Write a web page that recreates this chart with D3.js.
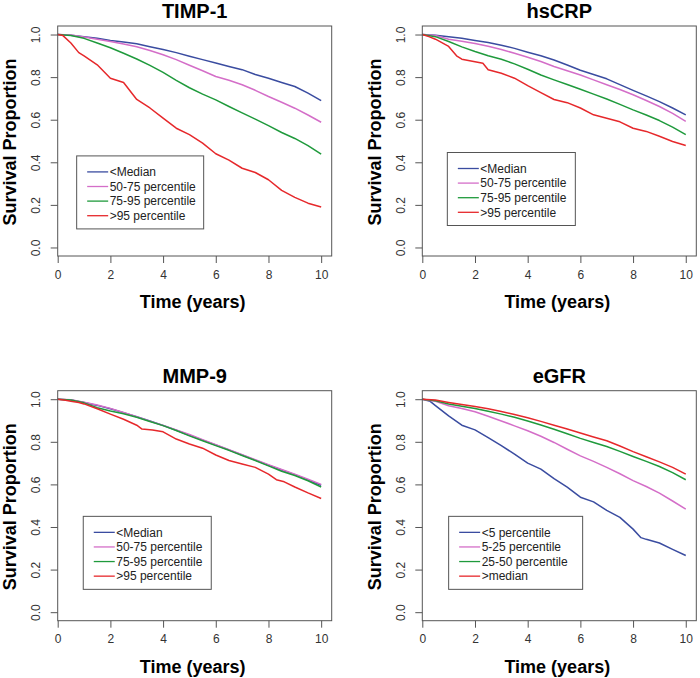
<!DOCTYPE html>
<html>
<head>
<meta charset="utf-8">
<script src="https://cdn.jsdelivr.net/npm/d3@7"></script>
<style>
  html, body { margin: 0; padding: 0; background: #fff; }
  svg { display: block; font-family: "Liberation Sans", Arial, Helvetica, sans-serif; }
</style>
</head>
<body>
<svg id="chart" width="700" height="678"></svg>
<script>
// ---------- DATA ----------
const panelTitles = ["TIMP-1", "hsCRP", "MMP-9", "eGFR"];
const xTicks = [0, 2, 4, 6, 8, 10];
const yTicks = [0.0, 0.2, 0.4, 0.6, 0.8, 1.0];
const xAxisTitle = "Time (years)";
const yAxisTitle = "Survival Proportion";

const quantileLabels = ["<Median", "50-75 percentile", "75-95 percentile", ">95 percentile"];
const egfrLabels = ["<5 percentile", "5-25 percentile", "25-50 percentile", ">median"];

// TIMP-1
const timp1Median = [[0,1],[0.5,0.997],[1,0.99],[1.5,0.982],[2,0.972],[2.5,0.965],[3,0.957],[3.5,0.943],[4,0.93],[4.5,0.915],[5,0.898],[5.5,0.882],[6,0.866],[6.5,0.85],[7,0.835],[7.5,0.812],[8,0.795],[8.5,0.775],[9,0.756],[9.5,0.725],[10,0.69]];
const timp1P5075 = [[0,1],[0.5,0.998],[1,0.988],[1.5,0.978],[2,0.967],[2.5,0.955],[3,0.943],[3.5,0.925],[4,0.905],[4.5,0.882],[5,0.856],[5.5,0.83],[6,0.803],[6.5,0.785],[7,0.764],[7.5,0.738],[8,0.709],[8.5,0.682],[9,0.654],[9.5,0.622],[10,0.588]];
const timp1P7595 = [[0,1],[0.5,0.995],[1,0.982],[1.5,0.96],[2,0.938],[2.5,0.912],[3,0.885],[3.5,0.855],[4,0.822],[4.5,0.785],[5,0.75],[5.5,0.72],[6,0.693],[6.5,0.662],[7,0.632],[7.5,0.603],[8,0.572],[8.5,0.54],[9,0.512],[9.5,0.478],[10,0.438]];
const timp1P95 = [[0,1],[0.2,0.995],[0.5,0.96],[0.8,0.915],[1,0.9],[1.5,0.858],[2,0.795],[2.5,0.775],[3,0.695],[3.5,0.655],[4,0.607],[4.5,0.56],[5,0.53],[5.5,0.49],[6,0.44],[6.5,0.41],[7,0.372],[7.5,0.352],[8,0.318],[8.5,0.268],[9,0.235],[9.5,0.208],[10,0.19]];

// hsCRP
const crpMedian = [[0,1],[0.5,0.997],[1,0.99],[1.5,0.982],[2,0.972],[2.5,0.962],[3,0.95],[3.5,0.935],[4,0.917],[4.5,0.9],[5,0.88],[5.5,0.857],[6,0.832],[6.5,0.812],[7,0.792],[7.5,0.765],[8,0.738],[8.5,0.712],[9,0.685],[9.5,0.655],[10,0.623]];
const crpP5075 = [[0,1],[0.5,0.995],[1,0.978],[1.5,0.968],[2,0.958],[2.5,0.945],[3,0.93],[3.5,0.912],[4,0.893],[4.5,0.873],[5,0.85],[5.5,0.83],[6,0.81],[6.5,0.787],[7,0.764],[7.5,0.742],[8,0.717],[8.5,0.69],[9,0.662],[9.5,0.63],[10,0.592]];
const crpP7595 = [[0,1],[0.5,0.99],[1,0.967],[1.5,0.942],[2,0.92],[2.5,0.9],[3,0.884],[3.5,0.862],[4,0.837],[4.5,0.81],[5,0.787],[5.5,0.765],[6,0.743],[6.5,0.72],[7,0.697],[7.5,0.672],[8,0.646],[8.5,0.622],[9,0.596],[9.5,0.565],[10,0.53]];
const crpP95 = [[0,1],[0.25,0.99],[0.5,0.978],[1,0.944],[1.3,0.9],[1.5,0.884],[2,0.872],[2.3,0.865],[2.5,0.835],[3,0.818],[3.5,0.795],[4,0.76],[4.5,0.727],[5,0.695],[5.5,0.68],[6,0.655],[6.5,0.623],[7,0.607],[7.5,0.59],[8,0.56],[8.5,0.545],[9,0.522],[9.5,0.498],[10,0.479]];

// MMP-9
const mmpMedian = [[0,1],[0.5,0.996],[1,0.985],[1.5,0.971],[2,0.955],[2.5,0.937],[3,0.918],[3.5,0.898],[4,0.877],[4.5,0.854],[5,0.831],[5.5,0.808],[6,0.785],[6.5,0.762],[7,0.738],[7.5,0.714],[8,0.69],[8.5,0.668],[9,0.646],[9.5,0.621],[10,0.596]];
const mmpP5075 = [[0,1],[0.5,0.997],[1,0.986],[1.5,0.973],[2,0.957],[2.5,0.938],[3,0.918],[3.5,0.897],[4,0.877],[4.5,0.856],[5,0.834],[5.5,0.81],[6,0.787],[6.5,0.763],[7,0.739],[7.5,0.716],[8,0.693],[8.5,0.67],[9,0.648],[9.5,0.624],[10,0.6]];
const mmpP7595 = [[0,1],[0.5,0.996],[1,0.983],[1.5,0.96],[2,0.945],[2.5,0.932],[3,0.915],[3.5,0.895],[4,0.876],[4.5,0.853],[5,0.828],[5.5,0.805],[6,0.782],[6.5,0.76],[7,0.736],[7.5,0.712],[8,0.687],[8.5,0.662],[9,0.642],[9.5,0.617],[10,0.588]];
const mmpP95 = [[0,1],[0.3,0.995],[0.5,0.99],[0.8,0.985],[1,0.978],[1.5,0.955],[2,0.93],[2.5,0.906],[3,0.878],[3.2,0.86],[3.6,0.855],[4,0.847],[4.5,0.813],[5,0.79],[5.5,0.77],[6,0.738],[6.5,0.712],[7,0.696],[7.5,0.68],[8,0.648],[8.3,0.622],[8.6,0.612],[9,0.588],[9.5,0.56],[10,0.534]];

// eGFR
const egfrP5 = [[0,1],[0.3,0.99],[0.5,0.97],[1,0.922],[1.5,0.878],[2,0.856],[2.5,0.82],[3,0.782],[3.5,0.742],[4,0.7],[4.5,0.672],[5,0.627],[5.5,0.587],[6,0.54],[6.5,0.518],[7,0.478],[7.5,0.445],[8,0.39],[8.3,0.35],[8.5,0.342],[9,0.325],[9.5,0.295],[10,0.266]];
const egfrP525 = [[0,1],[0.5,0.99],[1,0.969],[1.5,0.956],[2,0.941],[2.5,0.92],[3,0.898],[3.5,0.875],[4,0.852],[4.5,0.826],[5,0.797],[5.5,0.765],[6,0.734],[6.5,0.708],[7,0.68],[7.5,0.65],[8,0.618],[8.5,0.59],[9,0.559],[9.5,0.522],[10,0.484]];
const egfrP2550 = [[0,1],[0.5,0.993],[1,0.978],[1.5,0.967],[2,0.956],[2.5,0.943],[3,0.93],[3.5,0.915],[4,0.898],[4.5,0.879],[5,0.859],[5.5,0.838],[6,0.816],[6.5,0.797],[7,0.778],[7.5,0.755],[8,0.731],[8.5,0.708],[9,0.684],[9.5,0.655],[10,0.622]];
const egfrAboveMedian = [[0,1],[0.5,0.996],[1,0.985],[1.5,0.975],[2,0.966],[2.5,0.955],[3,0.942],[3.5,0.928],[4,0.913],[4.5,0.896],[5,0.878],[5.5,0.86],[6,0.841],[6.5,0.823],[7,0.805],[7.5,0.78],[8,0.754],[8.5,0.73],[9,0.706],[9.5,0.68],[10,0.648]];

// ---------- STYLE / LAYOUT ----------
const seriesColors = ["#3a4ca0", "#d46ec8", "#1f9a3c", "#e6282b"];
const panelSeries = [
  { labels: quantileLabels, series: [timp1Median, timp1P5075, timp1P7595, timp1P95], legendAt: [0.72, 0.43] },
  { labels: quantileLabels, series: [crpMedian, crpP5075, crpP7595, crpP95], legendAt: [0.95, 0.446] },
  { labels: quantileLabels, series: [mmpMedian, mmpP5075, mmpP7595, mmpP95], legendAt: [0.97, 0.45] },
  { labels: egfrLabels, series: [egfrP5, egfrP525, egfrP2550, egfrAboveMedian], legendAt: [1.0, 0.45] }
];
const legendWidths = [127, 128, 128, 134];
const boxes = [
  { left: 57.7, top: 26 }, { left: 422.3, top: 26 },
  { left: 57.7, top: 390.7 }, { left: 422.3, top: 390.7 }
];
const boxW = 274, boxH = 230;

const svg = d3.select("#chart");

panelSeries.forEach((p, i) => {
  const b = boxes[i];
  const x = d3.scaleLinear().domain([0, 10.4]).range([b.left, b.left + boxW]);
  const y = d3.scaleLinear().domain([-0.04, 1.04]).range([b.top + boxH, b.top]);
  const g = svg.append("g");

  // x axis (R style: ticks outward)
  const xa = g.append("g").attr("transform", `translate(0,${b.top + boxH})`)
    .call(d3.axisBottom(x).tickValues(xTicks).tickSize(7).tickPadding(7).tickFormat(d3.format("d")));
  xa.select(".domain").remove();
  xa.selectAll("line").attr("stroke", "#555");
  xa.selectAll("text").attr("font-size", 12).attr("fill", "#333")
    .attr("font-family", "Liberation Sans, Arial, sans-serif");

  // y axis
  const ya = g.append("g").attr("transform", `translate(${b.left},0)`)
    .call(d3.axisLeft(y).tickValues(yTicks).tickSize(7).tickFormat(d3.format(".1f")));
  ya.select(".domain").remove();
  ya.selectAll("line").attr("stroke", "#555");
  ya.selectAll("text")
    .attr("font-size", 12).attr("fill", "#333")
    .attr("font-family", "Liberation Sans, Arial, sans-serif")
    .attr("x", null).attr("dy", null)
    .attr("text-anchor", "middle")
    .attr("transform", "translate(-17.5,0) rotate(-90)");

  // survival curves
  const line = d3.line().x(d => x(d[0])).y(d => y(d[1]));
  p.series.forEach((s, k) => {
    g.append("path").datum(s)
      .attr("d", line)
      .attr("fill", "none")
      .attr("stroke", seriesColors[k])
      .attr("stroke-width", 1.5)
      .attr("stroke-linejoin", "round");
  });

  // plot box
  g.append("rect").attr("x", b.left).attr("y", b.top)
    .attr("width", boxW).attr("height", boxH)
    .attr("fill", "none").attr("stroke", "#555").attr("stroke-width", 1);

  // titles
  g.append("text").attr("x", b.left + boxW / 2).attr("y", b.top - 8)
    .attr("text-anchor", "middle").attr("font-weight", "bold").attr("font-size", 20)
    .attr("fill", "#000").text(panelTitles[i]);
  g.append("text").attr("x", b.left + boxW / 2 - 2).attr("y", b.top + boxH + 52)
    .attr("text-anchor", "middle").attr("font-weight", "bold").attr("font-size", 18)
    .attr("fill", "#000").text(xAxisTitle);
  g.append("text")
    .attr("transform", `translate(${b.left - 41.5},${b.top + boxH / 2 + 1}) rotate(-90)`)
    .attr("text-anchor", "middle").attr("font-weight", "bold").attr("font-size", 18)
    .attr("fill", "#000").text(yAxisTitle);

  // legend
  const lx = x(p.legendAt[0]), ly = y(p.legendAt[1]);
  const lg = g.append("g").attr("transform", `translate(${lx},${ly})`);
  lg.append("rect").attr("x", 0).attr("y", 0)
    .attr("width", legendWidths[i]).attr("height", 73)
    .attr("fill", "#fff").attr("stroke", "#555").attr("stroke-width", 1);
  p.labels.forEach((lab, k) => {
    const yy = 16 + k * 14.6;
    lg.append("line").attr("x1", 10.5).attr("x2", 31.5).attr("y1", yy).attr("y2", yy)
      .attr("stroke", seriesColors[k]).attr("stroke-width", 1.3);
    lg.append("text").attr("x", 33).attr("y", yy + 4.3)
      .attr("font-size", 12).attr("fill", "#222").text(lab);
  });
});
</script>
</body>
</html>
